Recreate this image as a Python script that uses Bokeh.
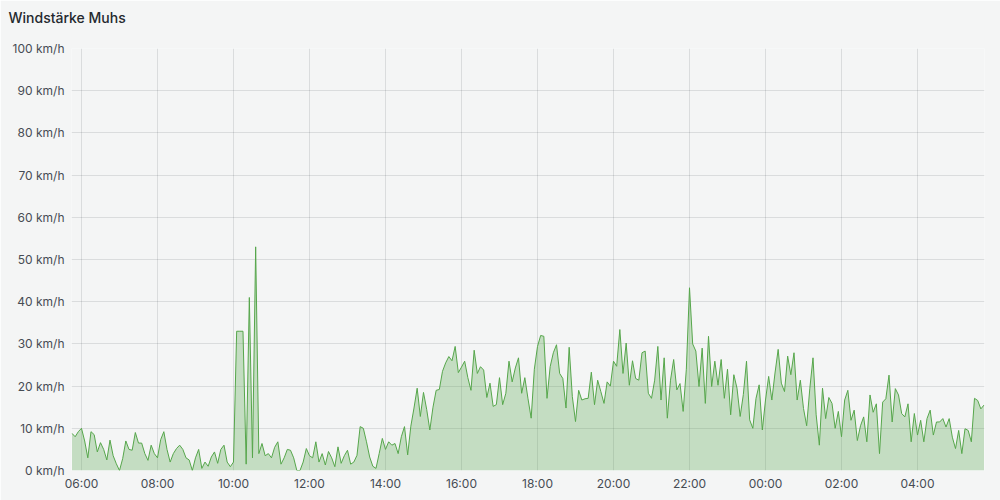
from bokeh.plotting import figure
from bokeh.models import Range1d, FixedTicker, PrintfTickFormatter, ColumnDataSource, Title
from bokeh.embed import file_html
from bokeh.resources import INLINE

# ---------------- data ----------------
TITLE = "Windstärke Muhs"
START_HOUR = 5.75          # first sample at 05:45
STEP_MINUTES = 5           # one sample every 5 minutes

# wind speed in km/h, 05:45 - 11:40
speed_morning = [
    8.8, 8.0, 9.2, 10.0, 7.0, 3.0, 9.2, 8.5, 4.4, 6.6, 5.0, 2.5,
    7.2, 3.5, 1.6, 0.0, 2.8, 7.0, 5.0, 4.8, 9.0, 6.5, 6.5, 4.0,
    2.4, 6.0, 4.0, 3.0, 7.3, 9.2, 5.0, 2.0, 4.0, 5.2, 6.0, 5.0,
    3.0, 2.5, 0.0, 3.0, 5.0, 0.5, 2.0, 1.0, 3.2, 4.4, 1.7, 5.0,
    6.0, 2.0, 0.9, 2.0, 33.0, 33.0, 33.0, 1.5, 41.0, 3.0, 53.0, 4.0,
    6.4, 3.5, 4.0, 3.0, 5.5, 6.8, 1.5, 3.0, 5.0, 4.8, 3.0, 0.0,
]
# 11:45 - 17:40
speed_afternoon = [
    0.0, 2.0, 5.2, 3.5, 3.0, 6.8, 2.0, 4.0, 1.3, 4.5, 3.0, 0.9,
    5.6, 1.7, 3.5, 4.8, 1.5, 2.0, 3.6, 10.4, 10.0, 6.8, 3.2, 1.0,
    0.5, 4.0, 7.6, 5.0, 6.8, 6.0, 6.4, 4.0, 8.0, 10.4, 3.7, 10.5,
    14.8, 19.5, 12.8, 18.5, 14.5, 9.6, 15.0, 19.0, 19.2, 23.5, 25.5, 27.0,
    26.0, 29.4, 23.2, 24.5, 25.9, 22.0, 19.0, 28.5, 23.0, 24.6, 23.8, 17.3,
    20.7, 15.2, 15.6, 22.0, 15.6, 18.3, 25.9, 21.0, 24.3, 26.7, 18.3, 22.0,
]
# 17:45 - 23:40
speed_evening = [
    17.0, 12.4, 24.0, 29.4, 32.0, 31.8, 17.1, 24.6, 27.9, 29.8, 23.0, 21.8,
    14.8, 29.2, 17.5, 11.6, 19.0, 16.7, 17.0, 17.1, 23.3, 15.6, 21.4, 18.7,
    15.9, 21.0, 20.0, 25.9, 24.7, 33.4, 23.0, 30.2, 20.2, 26.0, 21.8, 21.4,
    27.9, 28.3, 18.3, 17.1, 21.4, 29.4, 16.7, 26.7, 12.4, 21.4, 26.3, 19.1,
    20.6, 14.0, 24.0, 43.3, 30.0, 28.3, 19.9, 29.0, 15.9, 31.8, 19.9, 25.9,
    20.2, 26.3, 17.1, 24.0, 13.2, 22.7, 19.5, 12.8, 18.0, 25.9, 12.0, 10.0,
]
# 23:45 - 05:45
speed_night = [
    17.1, 20.3, 9.6, 16.7, 22.3, 16.7, 23.1, 28.7, 20.7, 18.7, 27.1, 22.7,
    27.9, 16.7, 21.4, 14.7, 10.6, 19.5, 26.7, 13.2, 6.0, 19.5, 12.3, 17.3,
    15.9, 10.0, 14.0, 8.0, 16.7, 19.0, 11.9, 14.3, 7.1, 10.6, 12.7, 6.8,
    17.9, 13.8, 15.8, 4.0, 16.2, 17.0, 22.6, 11.5, 19.4, 17.9, 13.5, 12.7,
    15.8, 6.8, 13.5, 8.4, 11.9, 6.8, 12.3, 14.3, 8.4, 11.5, 11.5, 12.3,
    10.3, 12.3, 7.9, 5.2, 9.5, 4.0, 9.9, 9.5, 6.8, 17.1, 16.6, 14.6, 15.5,
]

x_tick_hours = [6, 8, 10, 12, 14, 16, 18, 20, 22, 24, 26, 28]
x_tick_labels = ["06:00", "08:00", "10:00", "12:00", "14:00", "16:00",
                 "18:00", "20:00", "22:00", "00:00", "02:00", "04:00"]
y_ticks = [0, 10, 20, 30, 40, 50, 60, 70, 80, 90, 100]

# ---------------- build ----------------
speeds = speed_morning + speed_afternoon + speed_evening + speed_night
hours = [START_HOUR + i * STEP_MINUTES / 60.0 for i in range(len(speeds))]
source = ColumnDataSource(data=dict(x=hours, v=speeds))

BG = "#f4f5f5"
GREEN = "#56a64b"
TEXT = "#24292e"
TICK_TEXT = "#464c54"

p = figure(
    width=1000, height=500,
    x_range=Range1d(5.737, 29.763),
    y_range=Range1d(0, 100),
    output_backend="svg",
    toolbar_location=None,
    min_border_left=71, min_border_right=16,
    min_border_top=48, min_border_bottom=30,
    background_fill_color=BG, border_fill_color=BG,
)
p.outline_line_color = None

# spacer panel between frame and title (keeps the title near the top edge)
spacer = Title(text=" ", text_font="Inter", text_font_size="14px",
               text_color=BG, standoff=4)
p.add_layout(spacer, "above")

p.title.text = TITLE
p.title.text_font = "'Inter Medium', Inter"
p.title.text_font_size = "14px"
p.title.text_font_style = "normal"
p.title.text_color = TEXT
p.title.align = "left"
p.title.offset = -63
p.title.standoff = 0

for ax in (p.xaxis[0], p.yaxis[0]):
    ax.axis_line_color = None
    ax.major_tick_line_color = None
    ax.minor_tick_line_color = None
    ax.major_tick_out = 0
    ax.major_tick_in = 0
    ax.minor_tick_out = 0
    ax.minor_tick_in = 0
    ax.major_label_text_font = "Inter"
    ax.major_label_text_font_size = "12px"
    ax.major_label_text_color = TICK_TEXT

p.xaxis[0].ticker = FixedTicker(ticks=x_tick_hours)
p.xaxis[0].major_label_overrides = {h: lab for h, lab in zip(x_tick_hours, x_tick_labels)}
p.xaxis[0].major_label_standoff = 5
p.yaxis[0].ticker = FixedTicker(ticks=y_ticks)
p.yaxis[0].formatter = PrintfTickFormatter(format="%d km/h")
p.yaxis[0].major_label_standoff = 7

p.xgrid.ticker = FixedTicker(ticks=x_tick_hours)
p.ygrid.ticker = FixedTicker(ticks=y_ticks)
for g in (p.xgrid[0], p.ygrid[0]):
    g.grid_line_color = TEXT
    g.grid_line_alpha = 0.12

p.varea(x="x", y1=0, y2="v", source=source, fill_color=GREEN, fill_alpha=0.3)
p.line(x="x", y="v", source=source, line_color=GREEN, line_width=1)

html = file_html(p, INLINE)
html = html.replace("<body>", '<body style="margin:0;background-color:%s;">' % BG, 1)
open("out.html", "w").write(html)
